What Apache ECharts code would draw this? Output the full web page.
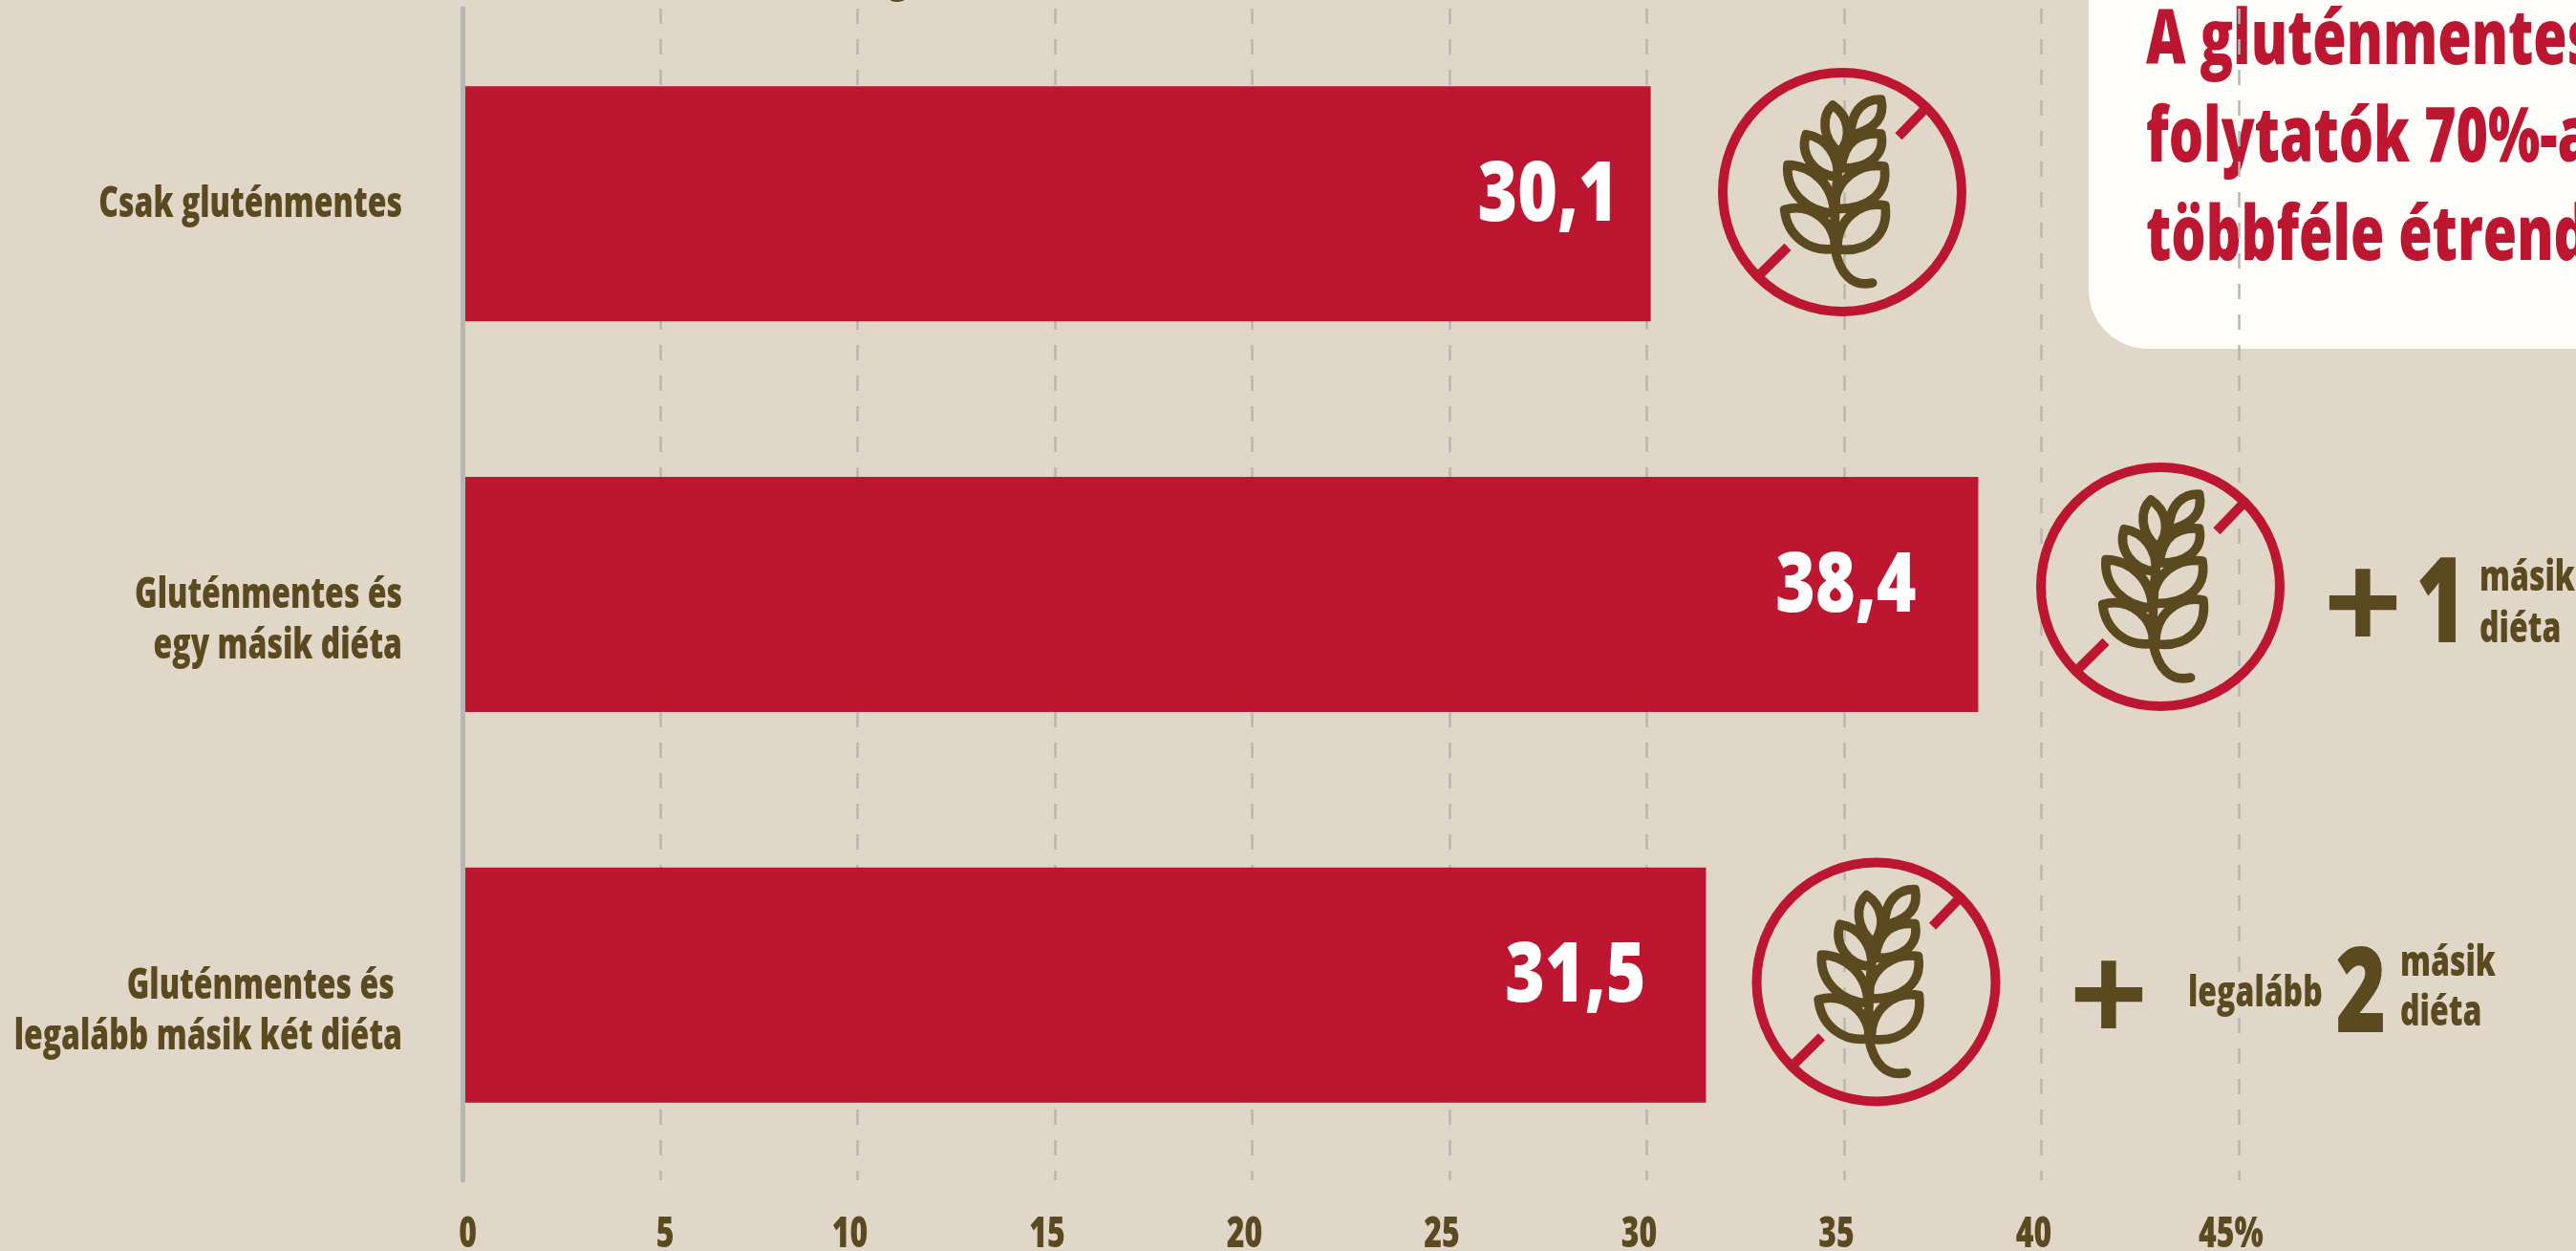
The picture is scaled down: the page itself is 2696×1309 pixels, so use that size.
<!DOCTYPE html>
<html><head><meta charset="utf-8">
<style>html,body{margin:0;padding:0;background:#e0d7c8;overflow:hidden}#c{width:2696px;height:1309px}</style>
<script src="https://cdn.jsdelivr.net/npm/echarts@6/dist/echarts.min.js"></script>
</head><body><div id="c"></div>
<script>
const categories = ['Csak gluténmentes', 'Gluténmentes és\negy másik diéta', 'Gluténmentes és \nlegalább másik két diéta'];
const values = [30.1, 38.4, 31.5];
const tickValues = [0,5,10,15,20,25,30,35,40,45];
const tickLabels = ['0','5','10','15','20','25','30','35','40','45%'];
const calloutLines = ['A gluténmentes', 'folytatók 70%-a', 'többféle étrend'];

const RED='#bc1630', BROWN='#5b4a20', BG='#e0d7c8', GREY='#b7b6b2', BOX='#fffefb';
const FAMILY='"Open Sans","Liberation Sans",sans-serif', WEIGHT='800';
const font=(size)=>WEIGHT+' '+size+'px '+FAMILY;
const mctx=document.createElement('canvas').getContext('2d');
mctx.font=font(44);
const SX=280/mctx.measureText('Gluténmentes és').width;

const chart = echarts.init(document.getElementById('c'), null, {renderer:'canvas', width:2696, height:1309});

const labelInsets=[34,65,63];
const g=[];
function t(text,x,base,size,color,o){
  o=o||{};
  g.push({type:'text',z:o.z==null?6:o.z,z2:2,silent:true,x:x,y:base-(o.font?0.3465:0.275)*size,scaleX:o.sx==null?SX:o.sx,
    style:{text,x:0,y:0,fill:color,font:o.font||font(size),align:o.align||'left',verticalAlign:'middle'}});
}
const WHEAT=[
 'M515 102C470 100 420 130 420 215C480 200 530 170 515 102Z',
 'M363 120C330 150 325 220 385 270C425 220 415 155 363 120Z',
 'M515 210C450 205 400 230 390 318C470 320 530 280 515 210Z',
 'M280 212C260 270 300 340 378 345C385 280 340 220 280 212Z',
 'M525 312C450 300 370 350 368 445C470 450 540 400 525 312Z',
 'M222 308C215 390 280 455 368 460C365 370 300 310 222 308Z',
 'M528 435C450 420 375 480 378 572C470 585 540 530 528 435Z',
 'M212 448C220 530 290 585 372 570C370 490 300 425 212 448Z',
 'M388 262C376 340 366 480 370 570C385 650 425 692 488 678'
].join('');
echarts.graphic.registerShape('wheat', echarts.graphic.extendPath(WHEAT));
function icon(cx,cy){
  const base={z:5,silent:true,x:cx-131,y:cy-131,scaleX:1/3,scaleY:1/3};
  g.push(Object.assign({type:'circle',shape:{cx:393,cy:393,r:375},style:{fill:null,stroke:RED,lineWidth:30}},base));
  g.push(Object.assign({type:'line',shape:{x1:655,y1:130,x2:570,y2:218},style:{stroke:RED,lineWidth:30}},base));
  g.push(Object.assign({type:'line',shape:{x1:131,y1:655,x2:222,y2:565},style:{stroke:RED,lineWidth:30}},base));
  g.push(Object.assign({type:'wheat',shape:{},style:{fill:null,stroke:BROWN,lineWidth:29,lineJoin:'round',lineCap:'round'}},base));
}
g.push({type:'rect',z:-1,silent:true,shape:{x:2186,y:-80,width:700,height:445,r:[0,0,0,62]},style:{fill:BOX}});
calloutLines.forEach((s,i)=>t(s,2246,[66,168,271][i],80,RED,{z:-1,sx:SX*0.985}));
t('g',928,-13,56,BROWN,{z:-1});

[[1928,201],[2261,614],[1963.5,1027.5]].forEach(p=>icon(p[0],p[1]));

const PLUS='bold 140px "Liberation Sans",sans-serif';
t('+',2473,687,140,BROWN,{align:'center',font:PLUS,sx:1});
t('1',2555,671,124,BROWN,{align:'center'});
t('másik',2595,618,44,BROWN);
t('diéta',2595,672,44,BROWN);
t('+',2207,1097,140,BROWN,{align:'center',font:PLUS,sx:1});
t('legalább',2290,1053,44,BROWN);
t('2',2471,1079,124,BROWN,{align:'center'});
t('másik',2512,1021,44,BROWN);
t('diéta',2512,1073,44,BROWN);

function textEl(text,x,y,size,color,align,va,extra,sx){
  return {type:'text',x:x,y:y,scaleX:sx||SX,z2:10,style:Object.assign({text,x:0,y:0,fill:color,font:font(size),align,verticalAlign:va},extra||{})};
}
chart.setOption({
  animation:false,
  backgroundColor:BG,
  grid:{left:484.5,top:9,width:1858.5,height:1226,containLabel:false},
  xAxis:{type:'value',min:0,max:45,interval:5,
    axisLine:{show:false},axisTick:{show:false},axisLabel:{show:false},
    splitLine:{show:true,lineStyle:{color:GREY,width:2.5,type:[16,16]}}},
  yAxis:{type:'category',data:categories,inverse:true,z:3,
    axisLine:{show:true,lineStyle:{color:GREY,width:5}},axisTick:{show:false},splitLine:{show:false},
    axisLabel:{show:false}},
  series:[
    {type:'bar',barWidth:246,z:2,itemStyle:{color:RED},data:values},
    {type:'custom',z:4,silent:true,clip:false,data:values.map((v,i)=>[v,i]),
      renderItem:(p,api)=>{const c=api.coord([api.value(0),api.value(1)]);
        return textEl(String(api.value(0)).replace('.',','),c[0]-labelInsets[p.dataIndex],c[1]-7,86,'#fff','right','middle',null,SX*1.14);}},
    {type:'custom',z:4,silent:true,clip:false,data:categories.map((v,i)=>[0,i]),
      renderItem:(p,api)=>{const c=api.coord([0,api.value(1)]);
        return textEl(categories[p.dataIndex],421,c[1]-25,44,BROWN,'right','top',{lineHeight:53});}},
    {type:'custom',z:4,silent:true,clip:false,data:tickValues.map(v=>[v,0]),
      renderItem:(p,api)=>{const c=api.coord([api.value(0),0]);const b=p.coordSys.y+p.coordSys.height;
        return textEl(tickLabels[p.dataIndex],c[0]+(api.value(0)<10?5:-8),b+57,44,BROWN,'center','middle');}}
  ],
  graphic:{elements:g}
});
</script>
</body></html>
